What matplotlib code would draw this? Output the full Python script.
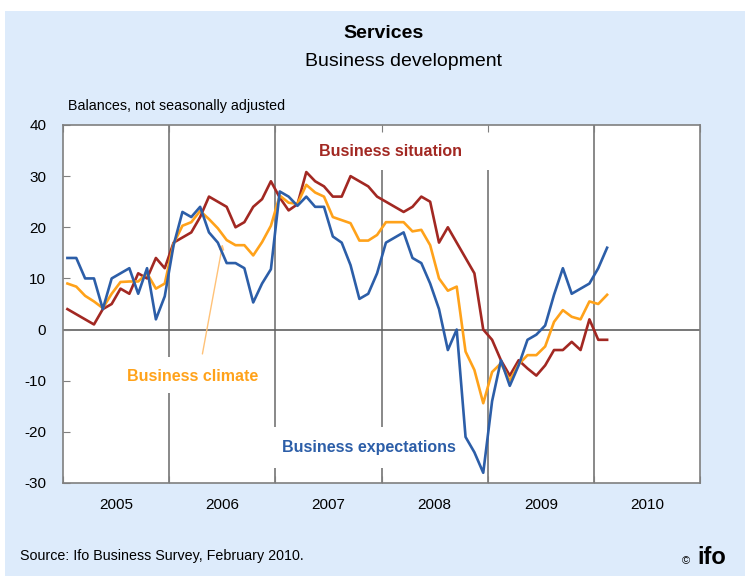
import matplotlib.pyplot as plt
import numpy as np
from matplotlib.patches import Rectangle

plt.rcParams['font.family'] = ['Liberation Sans', 'DejaVu Sans']
plt.rcParams['axes.unicode_minus'] = False

# Monatswerte Jan 2005 - Feb 2010 (Salden)
years = ['2005', '2006', '2007', '2008', '2009', '2010']
situation = [4, 3, 2, 1, 4, 5, 8, 7, 11, 10, 14, 12,
             17, 18, 19, 22, 26, 25, 24, 20, 21, 24, 25.5, 29,
             25.8, 23.3, 24.5, 30.8, 29, 28, 26, 26, 30, 29, 28, 26,
             25, 24, 23, 24, 26, 25, 17, 20, 17, 14, 11, 0,
             -2, -6, -9, -6, -7.6, -9, -7, -4, -4, -2.4, -4, 2,
             -2, -2]
climate = [9, 8.4, 6.6, 5.5, 4.2, 7, 9.3, 9.4, 9.4, 11, 8, 9,
           16.8, 20.3, 21, 23.2, 21.6, 19.8, 17.5, 16.5, 16.5, 14.5, 17.1, 20.3,
           26.2, 24.8, 24.6, 28.3, 26.8, 26, 22, 21.4, 20.8, 17.4, 17.4, 18.5,
           21, 21, 21, 19.2, 19.5, 16.5, 10, 7.6, 8.4, -4.3, -7.9, -14.4,
           -8.3, -6.6, -10, -6.8, -5, -5, -3.3, 1.5, 3.8, 2.5, 2, 5.5,
           5, 6.8]
expectations = [14, 14, 10, 10, 4, 10, 11, 12, 7, 12, 2, 6.5,
                16.5, 23, 22, 24, 19, 17, 13, 13, 12, 5.3, 9, 11.8,
                27, 26, 24.2, 26, 24, 24, 18.2, 17, 12.6, 6, 7, 11,
                17, 18, 19, 14, 13, 9, 4, -4, 0, -21, -24, -28,
                -14, -6, -11, -7, -2, -1, 0.8, 6.8, 12, 7, 8, 9,
                12, 16]

c_sit = '#a22822'
c_cli = '#ffa21a'
c_exp = '#2c5ea8'
c_grid = '#7f7f7f'

fig = plt.figure(figsize=(7.45, 5.76), dpi=100)
fig.patch.set_facecolor('white')
fig.add_artist(Rectangle((5 / 745, 0), 740 / 745, 565 / 576, transform=fig.transFigure,
                         facecolor='#ddebfb', edgecolor='none', zorder=-10))

ax = fig.add_axes([63 / 745, 93 / 576, 637 / 745, 358 / 576])
ax.set_facecolor('white')

x = np.arange(len(situation)) + 0.5
ax.set_xlim(0, 72)
ax.set_ylim(-30, 40)

# Jahresgrenzen mit Lücken hinter den Beschriftungen
ax.vlines(12, -30, -12.4, color=c_grid, lw=1.3, zorder=1)
ax.vlines(12, -5.4, 40, color=c_grid, lw=1.3, zorder=1)
ax.vlines(24, -30, -27, color=c_grid, lw=1.3, zorder=1)
ax.vlines(24, -19, 40, color=c_grid, lw=1.3, zorder=1)
ax.vlines(36, -30, -27, color=c_grid, lw=1.3, zorder=1)
ax.vlines(36, -19, 31.2, color=c_grid, lw=1.3, zorder=1)
ax.vlines(48, -30, 31.2, color=c_grid, lw=1.3, zorder=1)
ax.vlines(60, -30, 40, color=c_grid, lw=1.3, zorder=1)
ax.axhline(0, color='#606060', lw=1.2, zorder=1)

ax.plot(x, situation, color=c_sit, lw=1.9, zorder=3)
ax.plot(x, climate, color=c_cli, lw=1.9, zorder=3)
ax.plot(x, expectations, color=c_exp, lw=1.9, zorder=4)

for s in ax.spines.values():
    s.set_color(c_grid)
    s.set_linewidth(1.2)

ax.set_yticks(range(-30, 41, 10))
ax.tick_params(axis='y', direction='in', length=5, color=c_grid, labelsize=11, pad=12)
ax.set_xticks(range(0, 73, 12))
ax.set_xticklabels([])
ax.tick_params(axis='x', which='major', direction='in', length=5, color=c_grid, top=True)
ax.set_xticks(np.arange(6, 72, 12), minor=True)
ax.set_xticklabels(years, minor=True)
ax.tick_params(axis='x', which='minor', length=0, labelsize=11, pad=11)

ax.text(37.0, 34.9, 'Business situation', color=c_sit, fontsize=11.5,
        fontweight='bold', ha='center', va='center')
ax.text(14.6, -9.1, 'Business climate', color=c_cli, fontsize=11.5,
        fontweight='bold', ha='center', va='center')
ax.text(34.6, -23, 'Business expectations', color=c_exp, fontsize=11.5,
        fontweight='bold', ha='center', va='center')
ax.annotate('', xy=(18.1, 17.2), xytext=(15.7, -5.3),
            arrowprops=dict(arrowstyle='-|>', color='#ffc278', lw=1, mutation_scale=7))

fig.text(383 / 745, 1 - 33 / 576, 'Services', fontsize=14, fontweight='bold',
         ha='center', va='center')
fig.text(403 / 745, 1 - 61 / 576, 'Business development', fontsize=14,
         ha='center', va='center')
fig.text(68 / 745, 1 - 106 / 576, 'Balances, not seasonally adjusted', fontsize=10.3,
         ha='left', va='center')
fig.text(20 / 745, 1 - 556 / 576, 'Source: Ifo Business Survey, February 2010.',
         fontsize=10.3, ha='left', va='center')
fig.text(686 / 745, 1 - 561 / 576, '©', fontsize=8, ha='center', va='center')
fig.text(697 / 745, 1 - 558 / 576, 'ifo', fontsize=17, fontweight='bold',
         ha='left', va='center')

fig.savefig('out.png', dpi=100)
